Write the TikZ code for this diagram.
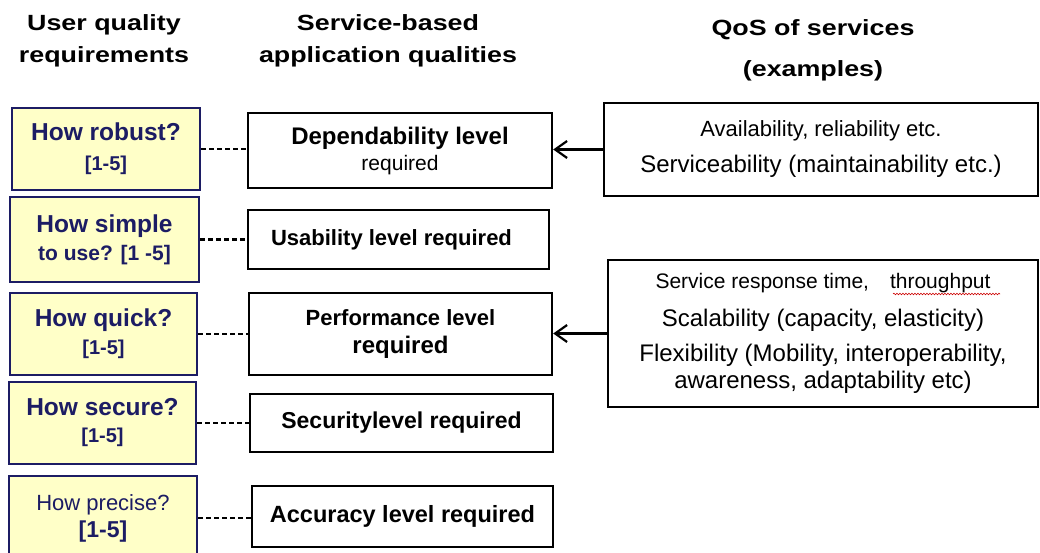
\documentclass[tikz,border=0pt]{standalone}
\usepackage{fontspec}
\setmainfont{Liberation Sans}
\newfontfamily\headfont[FakeStretch=1.22]{Liberation Sans}
\usetikzlibrary{arrows.meta,decorations.pathmorphing}

\definecolor{reqfill}{HTML}{FFFFC8}
\definecolor{reqnavy}{HTML}{1C1C64}
\newcommand{\fsz}[2]{\fontsize{#1}{#2}\selectfont}

\begin{document}
\begin{tikzpicture}[
x=1pt,y=-1pt,
line join=miter
%,scale=1, every node/.style={transform shape}
]

  \tikzstyle{req}=[draw=reqnavy,fill=reqfill,line width=2.4pt,text=reqnavy,align=center,inner sep=0pt]
  \tikzstyle{qual}=[draw=black,line width=2.4pt,align=center,inner sep=0pt]
  \tikzstyle{qos}=[draw=black,line width=2.4pt,align=center,inner sep=0pt]
  \tikzstyle{head}=[align=center,inner sep=0pt]
  \tikzstyle{link}=[dashed,dash pattern=on 5pt off 3pt,line width=2.2pt]
  \tikzstyle{feed}=[-{Straight Barb[length=12pt,width=17pt]},line width=2.2pt]

  \useasboundingbox (0,0) rectangle (1040,553);

  % column heads
  \node (h1) [head,font=\headfont\bfseries\fsz{22}{32}] at (104,41) {User quality\\requirements};
  \node (h2) [head,font=\headfont\bfseries\fsz{22}{32}] at (388,41) {Service-based\\application qualities};
  \node (h3) [head,font=\headfont\bfseries\fsz{22}{41}] at (813,50) {QoS of services\\(examples)};

  % user quality requirements
  \node (q1) [req,minimum width=188,minimum height=82,font=\bfseries\fsz{24.5}{30}] at (106,149)
    {How robust?\\\fsz{20}{30}[1-5]};
  \node (q2) [req,minimum width=189,minimum height=85,font=\bfseries\fsz{24.5}{28}] at (104.5,239.5)
    {How simple\\\fsz{21}{28}to use? [1 -5]};
  \node (q3) [req,minimum width=187,minimum height=82,font=\bfseries\fsz{24.5}{28}] at (103.5,334)
    {How quick?\\\fsz{20}{28}[1-5]};
  \node (q4) [req,minimum width=187,minimum height=82,font=\bfseries\fsz{24.5}{27}] at (102.5,423)
    {How secure?\\\fsz{20}{27}[1-5]};
  \node (q5) [req,minimum width=188,minimum height=84,font=\fsz{22}{27}] at (103,518)
    {How precise?\\\bfseries\fsz{23}{27}[1-5]};

  % application qualities
  \node (a1) [qual,minimum width=304,minimum height=75,font=\bfseries\fsz{24}{26}] at (400,150.5)
    {Dependability level\\\mdseries\fsz{21}{26}required};
  \node (a2) [qual,minimum width=301,minimum height=59,font=\bfseries\fsz{22}{26}] at (398.5,239.5)
    {\raisebox{4pt}{Usability level required}\hspace{14pt}};
  \node (a3) [qual,minimum width=303,minimum height=82,font=\bfseries\fsz{22}{28}] at (400.5,334)
    {Performance level\\\fsz{24}{28}required};
  \node (a4) [qual,minimum width=303,minimum height=58,font=\bfseries\fsz{23}{26}] at (401.5,423)
    {Securitylevel required};
  \node (a5) [qual,minimum width=301,minimum height=61,font=\bfseries\fsz{23.5}{26}] at (402.5,516.5)
    {Accuracy level required};

  % QoS examples
  \node (s1) [qos,minimum width=434,minimum height=93,font=\fsz{22}{36}] at (821,149.5)
    {Availability, reliability etc.\\\fsz{24}{36}Serviceability (maintainability etc.)};
  \node (s2) [qos,minimum width=430,minimum height=147,font=\fsz{24}{36}] at (823,333.5)
    {\fsz{21}{36}Service response time,\quad throughput\\[2pt]
     Scalability (capacity, elasticity)\\[-1pt]
     Flexibility (Mobility, interoperability,\\[-9pt]
     awareness, adaptability etc)};

  \draw [red!80!black,line width=0.6pt,decorate,decoration={snake,amplitude=0.8pt,segment length=3pt}]
    (893,294) -- (1000,294);

  \draw [link] (q1.east) -- (q1.east -| a1.west);
  \draw [link] (q2.east) -- (q2.east -| a2.west);
  \draw [link] (q3.east) -- (q3.east -| a3.west);
  \draw [link] (q4.east) -- (q4.east -| a4.west);
  \draw [link] (q5.east) -- (q5.east -| a5.west);

  \draw [feed] (s1.west) -- (s1.west -| a1.east);
  \draw [feed] (s2.west) -- (s2.west -| a3.east);

\end{tikzpicture}
\end{document}
